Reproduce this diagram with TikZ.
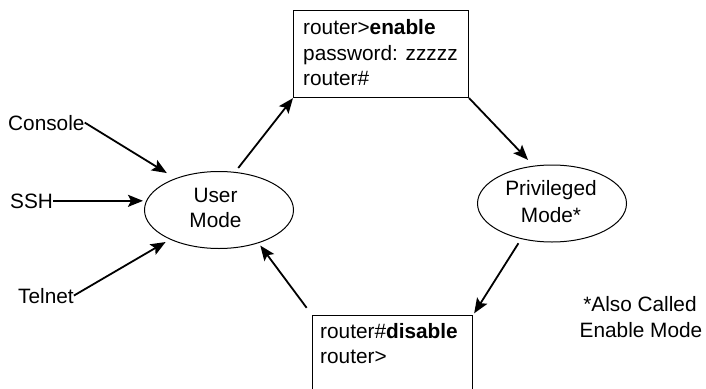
\documentclass[tikz,border=0pt]{standalone}
\usepackage{fontspec}
\setmainfont{Liberation Sans}
\usetikzlibrary{arrows.meta,shapes.geometric}
\begin{document}
\begin{tikzpicture}[x=1pt,y=-1pt,
  every node/.style={font=\fontsize{20.8}{25}\selectfont, inner sep=0pt},
  lbl/.style={anchor=base west},
  ctr/.style={anchor=base},
  mode/.style={draw, ellipse, line width=1pt, minimum width=149pt, minimum height=77pt},
  cmdbox/.style={draw, rectangle, line width=1.1pt, anchor=north west},
  arr/.style={line width=1.8pt, -{Stealth[length=15pt,width=12pt,inset=3pt]}}
]
\useasboundingbox (0,0) rectangle (706,388);
\clip (0,0) rectangle (706,388);
% modes
\node[mode] (um) at (219,210) {};
\node[ctr] (umt1) at (215.5,202) {User};
\node[ctr] (umt2) at (215.5,227) {Mode};
\node[mode] (pm) at (552,203.5) {};
\node[ctr] (pmt1) at (551,195) {Privileged};
\node[ctr] (pmt2) at (551,222) {Mode*};
% command boxes
\node[cmdbox, minimum width=175pt, minimum height=87pt] (en) at (293,10) {};
\node[lbl] (en1) at (303,34) {router>\textbf{enable}};
\node[lbl] (en2) at (303,60) {password: zzzzz};
\node[lbl] (en3) at (303,85) {router\#};
\node[cmdbox, minimum width=160pt, minimum height=90pt] (dis) at (312,315) {};
\node[lbl] (dis1) at (320,338) {router\#\textbf{disable}};
\node[lbl] (dis2) at (320,363) {router>};
% access methods
\node[lbl] (con) at (8,130) {Console};
\node[lbl] (ssh) at (10,208) {SSH};
\node[lbl] (tel) at (18,303) {Telnet};
% note
\node[ctr] (note1) at (640,311) {*Also Called};
\node[ctr] (note2) at (641,337) {Enable Mode};
% connectors
\draw[arr, shorten >=10pt] (con.east) -- (um.144);
\draw[arr, shorten >=1pt] (ssh.east) -- (ssh.east -| um.west);
\draw[arr, shorten >=5pt] (tel.east) -- (um.211);
\draw[arr, shorten <=5pt] (um.67) -- (en.south west);
\draw[arr, shorten >=8pt] (en.south east) -- (pm.116);
\draw[arr, shorten <=5pt, shorten >=2pt] (pm.229) -- (dis.north east);
\draw[arr, shorten <=9pt, shorten >=3pt] (dis.north west) -- (um.320);
\end{tikzpicture}
\end{document}
